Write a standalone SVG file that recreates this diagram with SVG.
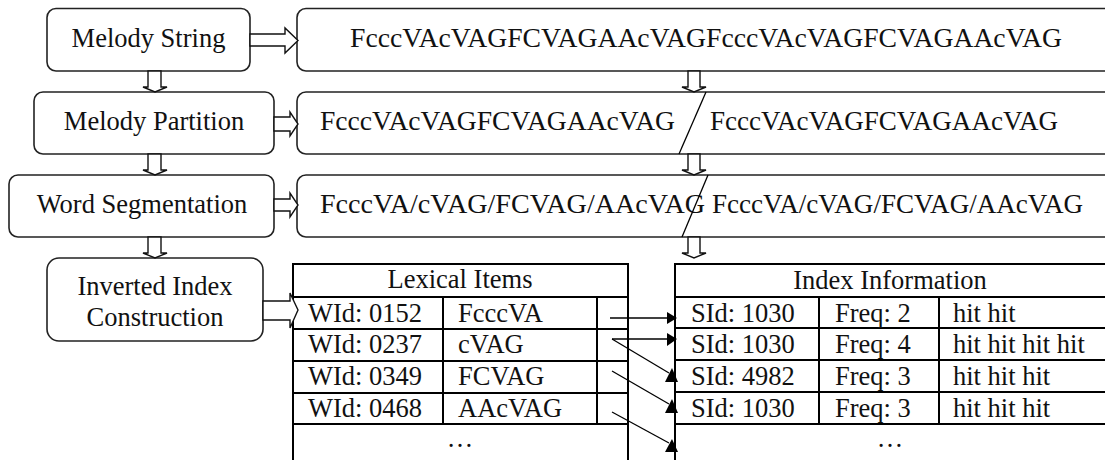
<svg xmlns="http://www.w3.org/2000/svg" width="1105" height="460" viewBox="0 0 1105 460">
<style>
text{font-family:"Liberation Serif","Times New Roman",serif;font-size:26.5px;fill:#111}
.box{fill:#fff;stroke:#222;stroke-width:1.6}
.blk{fill:#fff;stroke:#111;stroke-width:1.4;stroke-linejoin:miter}
.tl{stroke:#000;stroke-width:2;fill:none}
.cn{stroke:#000;stroke-width:1.3;fill:none}
.ah{fill:#000}
.m{text-anchor:middle}
</style>
<rect width="1105" height="460" fill="#fff"/>

<g id="node-melody-string">
<rect class="box" x="47" y="8.5" width="203" height="62.5" rx="9"/>
<text class="m" x="148.5" y="47">Melody String</text>
</g>
<g id="node-melody-partition">
<rect class="box" x="34" y="92" width="240" height="62" rx="9"/>
<text class="m" x="154" y="130">Melody Partition</text>
</g>
<g id="node-word-segmentation">
<rect class="box" x="9" y="175" width="265" height="62" rx="9"/>
<text class="m" x="142" y="213">Word Segmentation</text>
</g>
<g id="node-inverted-index">
<rect class="box" x="47" y="258" width="216" height="83" rx="12"/>
<text class="m" x="155" y="295">Inverted Index</text>
<text class="m" x="155" y="326">Construction</text>
</g>

<g id="node-string-full">
<rect class="box" x="297" y="8.5" width="830" height="62.5" rx="9"/>
<text x="350" y="47" textLength="712" lengthAdjust="spacingAndGlyphs">FcccVAcVAGFCVAGAAcVAGFcccVAcVAGFCVAGAAcVAG</text>
</g>
<g id="node-string-partition">
<rect class="box" x="297" y="92" width="830" height="62" rx="9"/>
<text x="320" y="130" textLength="355" lengthAdjust="spacingAndGlyphs">FcccVAcVAGFCVAGAAcVAG</text>
<line class="cn" x1="706" y1="92" x2="679" y2="154"/>
<text x="710" y="130" textLength="348" lengthAdjust="spacingAndGlyphs">FcccVAcVAGFCVAGAAcVAG</text>
</g>
<g id="node-string-segmented">
<rect class="box" x="297" y="175" width="830" height="62" rx="9"/>
<text x="320" y="213" textLength="385" lengthAdjust="spacingAndGlyphs">FcccVA/cVAG/FCVAG/AAcVAG</text>
<line class="cn" x1="708" y1="175" x2="682" y2="237"/>
<text x="712" y="213" textLength="371" lengthAdjust="spacingAndGlyphs">FcccVA/cVAG/FCVAG/AAcVAG</text>
</g>

<g id="node-lexical-items">
<path class="tl" d="M293,460 V264 H628 V460 M293,297 H628 M293,329 H628 M293,361 H628 M293,393 H628 M293,424 H628 M443,297 V424 M597,297 V424"/>
<text class="m" x="460" y="288">Lexical Items</text>
<text x="308" y="322">WId: 0152</text><text x="458" y="322">FcccVA</text>
<text x="308" y="353">WId: 0237</text><text x="458" y="353">cVAG</text>
<text x="308" y="385">WId: 0349</text><text x="458" y="385">FCVAG</text>
<text x="308" y="417">WId: 0468</text><text x="458" y="417">AAcVAG</text>
<text class="m" x="460" y="447">…</text>
</g>

<g id="node-index-information">
<path class="tl" d="M675,460 V264 H1110 M675,297 H1110 M675,328 H1110 M675,360 H1110 M675,392 H1110 M675,424 H1110 M819,297 V424 M939,297 V424"/>
<text class="m" x="890" y="289">Index Information</text>
<text x="691" y="322">SId: 1030</text><text x="835" y="322">Freq: 2</text><text x="953" y="322">hit hit</text>
<text x="691" y="353">SId: 1030</text><text x="835" y="353">Freq: 4</text><text x="953" y="353">hit hit hit hit</text>
<text x="691" y="385">SId: 4982</text><text x="835" y="385">Freq: 3</text><text x="953" y="385">hit hit hit</text>
<text x="691" y="417">SId: 1030</text><text x="835" y="417">Freq: 3</text><text x="953" y="417">hit hit hit</text>
<text class="m" x="890" y="447">…</text>
</g>

<g id="connectors">
<polygon class="blk" points="250,34 285,34 285,28 298,40.5 285,53 285,46 250,46"/>
<polygon class="blk" points="274,117 290,117 290,112 298,124 290,136 290,131 274,131"/>
<polygon class="blk" points="274,199 290,199 290,193 298,205 290,217 290,211 274,211"/>
<polygon class="blk" points="263,301 290,301 290,293 298,310 290,328 290,320 263,320"/>

<polygon class="blk" points="148,71 161,71 161,87 167,87 155,92 143,87 148,87"/>
<polygon class="blk" points="148,154 161,154 161,170 167,170 155,175 143,170 148,170"/>
<polygon class="blk" points="148,237 161,237 161,253 167,253 155,258 143,253 148,253"/>

<polygon class="blk" points="688,71 700,71 700,87 706,87 694,92 682,87 688,87"/>
<polygon class="blk" points="688,154 700,154 700,170 706,170 694,175 682,170 688,170"/>
<polygon class="blk" points="688,237 700,237 700,253 706,253 694,258 682,253 688,253"/>

<line class="cn" x1="610" y1="318" x2="668" y2="318"/>
<polygon class="ah" points="667,312 677,318 667,324"/>
<line class="cn" x1="612" y1="339" x2="668" y2="339"/>
<polygon class="ah" points="667,333 677,339 667,346"/>
<line class="cn" x1="612" y1="339" x2="669" y2="373"/>
<polygon class="ah" points="672,368 665,382 678,382"/>
<line class="cn" x1="612" y1="371" x2="669" y2="404"/>
<polygon class="ah" points="672,399 665,413 678,413"/>
<line class="cn" x1="612" y1="412" x2="669" y2="443"/>
<polygon class="ah" points="672,439 665,452 678,452"/>
</g>
</svg>
